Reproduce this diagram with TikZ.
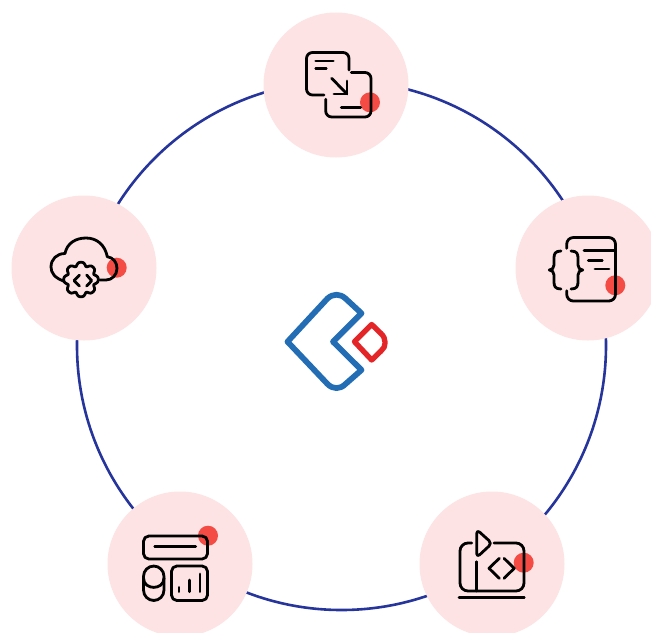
\documentclass[tikz,border=0pt]{standalone}
\definecolor{ringblue}{HTML}{26359B}
\definecolor{discpink}{HTML}{FDE3E3}
\definecolor{dotred}{HTML}{F44B45}
\definecolor{logoblue}{HTML}{226DB4}
\definecolor{logored}{HTML}{E42527}
\tikzset{
  ring/.style={draw=ringblue,line width=1.95pt},
  disc/.style={circle,fill=discpink,minimum size=108.75pt,inner sep=0pt,outer sep=0pt},
  dot/.style={fill=dotred},
  icon/.style={draw=black,line width=2.1pt,line cap=round,line join=round},
  logoB/.style={draw=logoblue,line width=4.3pt,line join=round,line cap=round},
  logoR/.style={draw=logored,line width=4pt,line join=round,line cap=round}
}
\begin{document}
\begin{tikzpicture}[x=0.75pt,y=-0.75pt]
\useasboundingbox (0,0) rectangle (651,633);
\clip (0,0) rectangle (651,633);
\fill[white] (0,0) rectangle (651,633);
% ring
\coordinate (ringc) at (341.5,345.5);
\draw[ring] (ringc) circle[radius=264.5];
% discs
\node[disc] (d1) at (336,85) {};
\node[disc] (d2) at (588,268) {};
\node[disc] (d3) at (492,564) {};
\node[disc] (d4) at (180,564) {};
\node[disc] (d5) at (84,268) {};
% red dots
\fill[dot] (370,102.3) circle[radius=10];
\fill[dot] (615.3,285.3) circle[radius=10];
\fill[dot] (523.7,562.7) circle[radius=10];
\fill[dot] (208,535.7) circle[radius=10];
\fill[dot] (116.7,267.7) circle[radius=10];
% icon 1
\draw[icon,rounded corners=4.5pt] (349,70) -- (349,52.5) -- (306.5,52.5) -- (306.5,95) -- (324,95);
\draw[icon,rounded corners=4.5pt] (351.3,72.5) -- (371,72.5) -- (371,117) -- (325.7,117) -- (325.7,99.3);
\draw[icon] (331.7,78.3) -- (347,94);
\draw[icon] (347,81) -- (347,94) -- (334,94);
\draw[icon] (315.7,61) -- (333.3,61);
\draw[icon] (315.7,68.7) -- (326.3,68.7);
\draw[icon] (341.3,107.7) -- (360.7,107.7);
% icon 2
\draw[icon,rounded corners=5pt] (566.7,248.3) -- (566.7,237.5) -- (615.5,237.5) -- (615.5,301) -- (566.7,301) -- (566.7,290.7);
\draw[icon] (584,250.7) -- (615.5,250.7);
\draw[icon] (588.3,260.7) -- (602.3,260.7);
\draw[icon] (595,269) -- (609,269);
\draw[icon] (561,251) .. controls (555,251) and (554,254) .. (554,258) -- (554,265) .. controls (554,268) and (552,270) .. (549.3,270) .. controls (552,270) and (554,272) .. (554,275) -- (554,282) .. controls (554,286) and (555,289) .. (561,289);
\draw[icon] (571,251) .. controls (577,251) and (578,254) .. (578,258) -- (578,265) .. controls (578,268) and (580,270) .. (582.7,270) .. controls (580,270) and (578,272) .. (578,275) -- (578,282) .. controls (578,286) and (577,289) .. (571,289);
% icon 3
\draw[icon,rounded corners=6pt] (471.7,543) -- (460,543) -- (460,591) -- (524,591) -- (524,543) -- (494,543);
\draw[icon] (476.7,561.7) -- (476.7,591);
\draw[icon] (459,597.3) -- (524.3,597.3);
\draw[icon,rounded corners=3pt] (476.7,543) -- (476.7,529.5) -- (492,543.3) -- (476.7,557.5) -- cycle;
\draw[icon] (499.3,558.3) -- (489,568.3) -- (499.3,578.3);
\draw[icon] (504,558.3) -- (514.3,568.3) -- (504,578.3);
% icon 4
\draw[icon,rounded corners=4pt] (143.5,536) rectangle (207.5,559);
\draw[icon] (154.7,546.7) -- (195.7,546.7);
\draw[icon,rounded corners=7.8pt] (143.5,566) rectangle (164,600.5);
\draw[icon] (143.5,578) .. controls (143.5,590.5) and (164,590.5) .. (164,578);
\draw[icon,rounded corners=4pt] (171.5,566) rectangle (207.5,600.5);
\draw[icon] (179,587.3) -- (179,591.7);
\draw[icon] (189.3,580) -- (189.3,591.7);
\draw[icon] (200,574) -- (200,591.7);
% icon 5
\draw[icon] (63.5,281) .. controls (55,278) and (51,273) .. (51,267) .. controls (51,259) and (57,253.5) .. (65,253.5) .. controls (67,243) and (76,238) .. (86,238) .. controls (97,238) and (105,245) .. (107.3,256.7) .. controls (113,257.5) and (117,262) .. (117,268.3) .. controls (117,275) and (112,280) .. (106,280) -- (100,280);
\draw[icon] plot[domain=0:360,samples=145,smooth] ({81+(17.2-3.4*(1-cos(8*\x))*(1-cos(8*\x))/4)*cos(\x)},{279.5+(17.2-3.4*(1-cos(8*\x))*(1-cos(8*\x))/4)*sin(\x)});
\draw[icon] (79.5,275) -- (74,280.7) -- (79.5,286);
\draw[icon] (86.7,275) -- (91.7,280.7) -- (86.7,286);
% logo
\draw[logoB] (361.5,313.3) -- (345.5,298.5) .. controls (340,293.5) and (333,293.5) .. (327.5,298.5) -- (287.5,341.7) -- (327.5,384) .. controls (333,389.5) and (340,389.5) .. (345.5,384) -- (361.5,370) -- (333,341.7) -- cycle;
\draw[logoR] (354.5,341.7) -- (371.7,324.5) -- (381,333.5) .. controls (386.5,338.5) and (386.5,347) .. (381,351) -- (371.7,360) -- cycle;
\end{tikzpicture}
\end{document}
